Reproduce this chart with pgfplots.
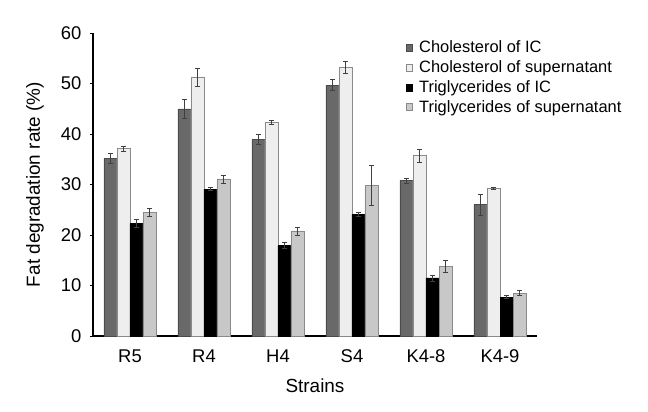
\documentclass[border=0pt]{standalone}
\usepackage{pgfplots}
\pgfplotsset{compat=1.18}
\usepackage{fontspec}
\setmainfont{Liberation Sans}
\definecolor{cDark}{HTML}{696969}
\definecolor{cLight}{HTML}{EEEEEE}
\definecolor{cBlack}{HTML}{000000}
\definecolor{cGray}{HTML}{C8C8C8}
\definecolor{eDark}{HTML}{4A4A4A}
\definecolor{eLight}{HTML}{8A8A8A}
\begin{document}
\begin{tikzpicture}
\path[use as bounding box] (-93bp,-76bp) rectangle (555bp,336bp);
\begin{axis}[
  scale only axis,
  width=444bp, height=303bp,
  anchor=south west, at={(0,0)},
  ybar=0pt, bar width=13bp,
  xmin=-0.5, xmax=5.5,
  ymin=0, ymax=60,
  ytick={0,10,...,60},
  xtick={0,1,2,3,4,5},
  xticklabels={R5,R4,H4,S4,K4-8,K4-9},
  axis x line*=bottom, axis y line*=left,
  axis line style={black, line width=1.3pt},
  x axis line style={-}, y axis line style={-},
  xtick style={draw=none},
  ytick style={black, line width=0.4pt},
  major tick length=3bp,
  tick align=outside,
  /pgf/number format/assume math mode=true,
  ticklabel style={font=\fontsize{18.5}{21}\selectfont},
  yticklabel style={xshift=-5bp},
  xticklabel style={yshift=-7bp},
  xlabel={Strains},
  ylabel={Fat degradation rate (\%)},
  label style={font=\fontsize{19}{22}\selectfont},
  xlabel style={at={(axis description cs:0.5,-0.165)}, anchor=center},
  ylabel style={at={(axis description cs:-0.1306,0.5)}, anchor=center},
  legend style={at={(axis description cs:0.705,0.98)}, anchor=north west,
    draw=none, fill=none, font=\fontsize{16.5}{19}\selectfont,
    row sep=3.5bp, inner sep=0bp,
    nodes={inner xsep=1.5bp, inner ysep=1.5bp}},
  legend cell align=left,
  legend image code/.code={\draw[#1, line width=0.4pt] (0bp,-3.5bp) rectangle (6bp,3.5bp); \path (11bp,0bp);},
  error bars/y dir=both, error bars/y explicit,
  error bars/error bar style={line width=0.6pt, black!75},
  error bars/error mark options={rotate=90, mark size=2.5bp, line width=0.6pt, black!75},
]
\addplot[fill=cDark, draw=eDark, line width=0.5pt] coordinates {
  (0,35.1) +- (0,1.0)
  (1,45.0) +- (0,1.8)
  (2,38.9) +- (0,1.0)
  (3,49.7) +- (0,1.1)
  (4,30.8) +- (0,0.5)
  (5,26.0) +- (0,2.0)
};
\addplot[fill=cLight, draw=eLight, line width=0.5pt] coordinates {
  (0,37.1) +- (0,0.5)
  (1,51.3) +- (0,1.8)
  (2,42.4) +- (0,0.4)
  (3,53.2) +- (0,1.1)
  (4,35.7) +- (0,1.3)
  (5,29.3) +- (0,0.2)
};
\addplot[fill=cBlack, draw=black, line width=0.5pt] coordinates {
  (0,22.3) +- (0,0.8)
  (1,29.1) +- (0,0.3)
  (2,17.9) +- (0,0.6)
  (3,24.1) +- (0,0.4)
  (4,11.5) +- (0,0.6)
  (5,7.7) +- (0,0.3)
};
\addplot[fill=cGray, draw=eLight, line width=0.5pt] coordinates {
  (0,24.5) +- (0,0.8)
  (1,31.1) +- (0,0.8)
  (2,20.8) +- (0,0.8)
  (3,29.8) +- (0,4.0)
  (4,13.8) +- (0,1.2)
  (5,8.5) +- (0,0.5)
};
\legend{Cholesterol of IC, Cholesterol of supernatant, Triglycerides of IC, Triglycerides of supernatant}
\end{axis}
\end{tikzpicture}
\end{document}
